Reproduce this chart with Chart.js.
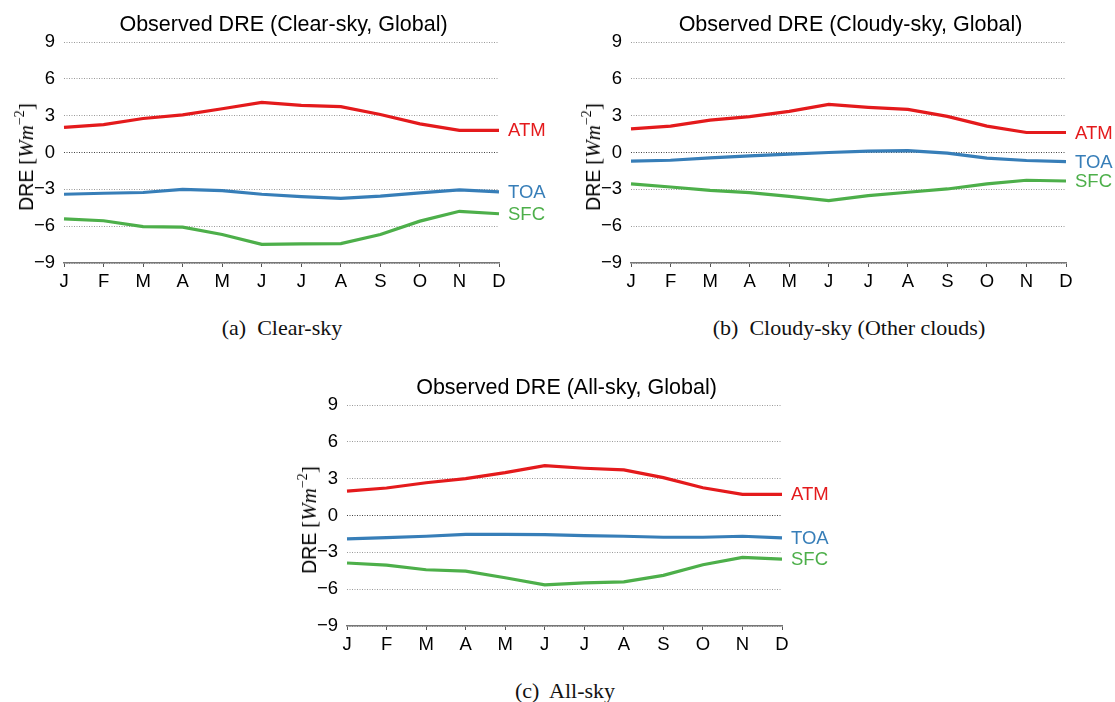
<!DOCTYPE html>
<html>
<head>
<meta charset="utf-8">
<script src="https://cdn.jsdelivr.net/npm/chart.js@4.4.1/dist/chart.umd.min.js"></script>
<style>
  html, body { margin: 0; padding: 0; background: #fff; }
  body { width: 1115px; height: 702px; position: relative; overflow: hidden; }
  .box { position: absolute; width: 557px; height: 300px; }
  .box canvas { position: absolute; left: 0; top: 0; }
  .ytitle { position: absolute; white-space: nowrap; transform: translate(-50%, -50%) rotate(-90deg);
            font-size: 19.5px; color: #000; line-height: 1; }
  .ytitle .sans { font-family: "Liberation Sans", Arial, sans-serif; }
  .ytitle .serif { font-family: "Liberation Serif", "Times New Roman", serif; font-size: 21px; }
  .ytitle sup { font-size: 14px; vertical-align: 9px; }
  .cap { position: absolute; transform: translate(-50%, -50%); white-space: pre;
         font-family: "Liberation Serif", "Times New Roman", serif; font-size: 22px; color: #111; }
</style>
</head>
<body>
<div class="box" style="left:0px;top:0px;"><canvas id="ca" width="557" height="300"></canvas>
  <div class="ytitle" style="left:25px;top:157px;"><span class="sans">DRE</span> <span class="serif">[<i>Wm</i><sup>−2</sup>]</span></div>
</div>
<div class="box" style="left:567px;top:0px;"><canvas id="cb" width="557" height="300"></canvas>
  <div class="ytitle" style="left:25px;top:157px;"><span class="sans">DRE</span> <span class="serif">[<i>Wm</i><sup>−2</sup>]</span></div>
</div>
<div class="box" style="left:283px;top:363px;"><canvas id="cc" width="557" height="300"></canvas>
  <div class="ytitle" style="left:25px;top:157px;"><span class="sans">DRE</span> <span class="serif">[<i>Wm</i><sup>−2</sup>]</span></div>
</div>
<div class="cap" style="left:282px;top:328px;">(a)  Clear-sky</div>
<div class="cap" style="left:849px;top:328px;">(b)  Cloudy-sky (Other clouds)</div>
<div class="cap" style="left:565px;top:691px;">(c)  All-sky</div>

<script>
// ---- data ----
const months = ['J','F','M','A','M','J','J','A','S','O','N','D'];
const yTicks = [-9, -6, -3, 0, 3, 6, 9];
const seriesNames = ['ATM', 'TOA', 'SFC'];

const clearATM = [2.05, 2.27, 2.77, 3.07, 3.56, 4.08, 3.84, 3.73, 3.10, 2.33, 1.81, 1.81];
const clearTOA = [-3.40, -3.32, -3.26, -3.01, -3.10, -3.40, -3.59, -3.73, -3.56, -3.29, -3.04, -3.20];
const clearSFC = [-5.40, -5.56, -6.03, -6.08, -6.68, -7.48, -7.45, -7.42, -6.68, -5.59, -4.79, -4.99];

const cloudyATM = [1.93, 2.15, 2.64, 2.92, 3.35, 3.92, 3.68, 3.51, 2.94, 2.15, 1.63, 1.63];
const cloudyTOA = [-0.71, -0.63, -0.44, -0.27, -0.14, 0.00, 0.11, 0.16, -0.05, -0.46, -0.65, -0.74];
const cloudySFC = [-2.56, -2.81, -3.08, -3.27, -3.57, -3.92, -3.51, -3.24, -2.97, -2.56, -2.26, -2.32];

const allATM = [1.99, 2.24, 2.67, 3.00, 3.49, 4.06, 3.85, 3.71, 3.08, 2.26, 1.72, 1.72];
const allTOA = [-1.91, -1.80, -1.69, -1.53, -1.53, -1.55, -1.64, -1.69, -1.77, -1.77, -1.69, -1.83];
const allSFC = [-3.87, -4.04, -4.42, -4.53, -5.07, -5.65, -5.48, -5.40, -4.88, -4.01, -3.41, -3.55];

const titles = ['Observed DRE (Clear-sky, Global)', 'Observed DRE (Cloudy-sky, Global)', 'Observed DRE (All-sky, Global)'];
const colors = ['#E41A1C', '#377EB8', '#4DAF4A'];

const SANS = '"Liberation Sans", Arial, Helvetica, sans-serif';

const textPlugin = {
  id: 'textPlugin',
  afterDraw(chart, args, opts) {
    const ctx = chart.ctx;
    const area = chart.chartArea;
    const ys = chart.scales.y;
    ctx.save();
    ctx.fillStyle = '#000';
    ctx.font = '21.5px ' + SANS;
    ctx.textAlign = 'center';
    ctx.textBaseline = 'middle';
    ctx.fillText(opts.title, (area.left + area.right) / 2 + 2, 25.5);
    ctx.font = '18.5px ' + SANS;
    ctx.textAlign = 'left';
    chart.data.datasets.forEach((ds) => {
      const v = ds.data[ds.data.length - 1];
      ctx.fillStyle = ds.borderColor;
      ctx.fillText(ds.label, area.right + 9, ys.getPixelForValue(v) + 1);
    });
    ctx.restore();
  }
};

function makeChart(id, title, atm, toa, sfc) {
  const seriesData = [atm, toa, sfc];
  return new Chart(document.getElementById(id), {
    type: 'line',
    data: {
      labels: months,
      datasets: seriesNames.map((n, i) => ({
        label: n,
        data: seriesData[i],
        borderColor: colors[i],
        backgroundColor: colors[i],
        borderWidth: 3.2,
        pointRadius: 0,
        tension: 0,
        fill: false
      }))
    },
    options: {
      responsive: false,
      animation: false,
      events: [],
      layout: { padding: { left: 0, right: 58, top: 42, bottom: 0 } },
      plugins: {
        legend: { display: false },
        title: { display: false },
        tooltip: { enabled: false },
        textPlugin: { title: title }
      },
      scales: {
        x: {
          type: 'category',
          offset: false,
          grid: { drawOnChartArea: false, drawTicks: true, tickLength: 4, color: '#555', lineWidth: 1 },
          border: { display: true, color: '#777', width: 1.5 },
          ticks: { color: '#000', font: { family: SANS, size: 18.5 }, padding: 4, maxRotation: 0, autoSkip: false },
          afterFit(scale) { scale.height = 37; }
        },
        y: {
          min: -9, max: 9,
          afterBuildTicks(scale) { scale.ticks = yTicks.map(v => ({ value: v })); },
          grid: {
            drawTicks: false,
            color: (c) => (c.tick && c.tick.value === 0 ? '#444' : '#9a9a9a'),
            lineWidth: 1
          },
          border: { display: false, dash: [1, 1.5] },
          ticks: {
            color: '#000', font: { family: SANS, size: 18.5 }, padding: 9,
            callback: (v) => String(v).replace('-', '\u2212')
          },
          afterFit(scale) { scale.width = 64; }
        }
      }
    },
    plugins: [textPlugin]
  });
}

makeChart('ca', titles[0], clearATM, clearTOA, clearSFC);
makeChart('cb', titles[1], cloudyATM, cloudyTOA, cloudySFC);
makeChart('cc', titles[2], allATM, allTOA, allSFC);
</script>
</body>
</html>
